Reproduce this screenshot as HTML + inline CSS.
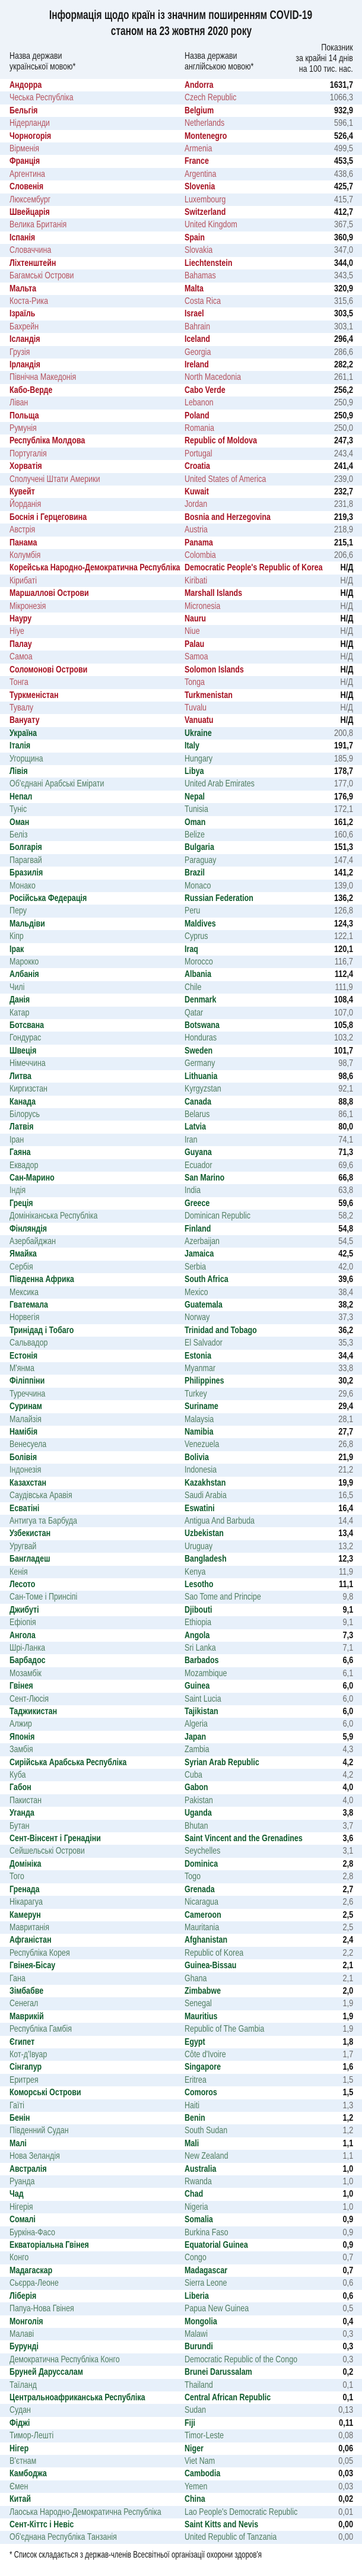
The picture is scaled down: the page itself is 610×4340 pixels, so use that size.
<!DOCTYPE html>
<html lang="uk"><head><meta charset="utf-8">
<style>
*{margin:0;padding:0;box-sizing:border-box}
body{width:610px;height:4340px;background:#fff;font-family:"Liberation Sans","DejaVu Sans",sans-serif;position:relative;overflow:hidden}
.hd{position:absolute;left:0;top:0;width:610px;height:133px;background:#eef3f9}
.ttl{position:absolute;left:0;width:610px;text-align:center;font-weight:bold;font-size:21px;color:#1a1a1a;white-space:nowrap}
.ttl span{display:inline-block;transform:scaleX(.74);transform-origin:center}
.hl{position:absolute;font-size:16px;line-height:18px;color:#1f1f1f;white-space:nowrap}
.hl span{display:inline-block;transform:scaleX(.78);transform-origin:left}
.hr span{transform-origin:right}
.t{position:absolute;left:0;top:133px;width:610px}
.t>div{position:relative;height:21.41px;line-height:21.41px;font-size:16px;white-space:nowrap}
.t>div:nth-child(even){background:#e7f0fa}
.t>div span{position:absolute;top:0;display:inline-block}
.u{left:16px;transform:scaleX(.78);transform-origin:left}
.e{left:311px;transform:scaleX(.78);transform-origin:left}
.n{right:15px;transform:scaleX(.8);transform-origin:right}
.t>div:nth-child(odd){font-weight:bold}
.t>div:nth-child(odd) .n{color:#111}
.t>div:nth-child(even) .n{color:#6a6a6a}
.R:nth-child(odd) .u,.R:nth-child(odd) .e{color:#a50f20}
.R:nth-child(even) .u,.R:nth-child(even) .e{color:#b5505c}
.G:nth-child(odd) .u,.G:nth-child(odd) .e{color:#0d5a2c}
.G:nth-child(even) .u,.G:nth-child(even) .e{color:#4f7d60}
.t>div.ua .u,.t>div.ua .e{color:#0d5a2c;font-weight:bold}
.ft{position:absolute;left:16px;top:4296px;font-size:16px;color:#111;white-space:nowrap}
.ft span{display:inline-block;transform:scaleX(.72);transform-origin:left}
</style></head><body>
<div class="hd"></div>
<div class="ttl" style="top:14px"><span>Інформація щодо країн із значним поширенням COVID-19</span></div>
<div class="ttl" style="top:41px"><span>станом на 23 жовтня 2020 року</span></div>
<div class="hl" style="left:16px;top:86px"><span>Назва держави<br>української мовою*</span></div>
<div class="hl" style="left:311px;top:86px"><span>Назва держави<br>англійською мовою*</span></div>
<div class="hl hr" style="right:15px;top:72px;text-align:right"><span>Показник<br>за крайні 14 днів<br>на 100 тис. нас.</span></div>
<div class="t">
<div class="R"><span class="u">Андорра</span><span class="e">Andorra</span><span class="n">1631,7</span></div>
<div class="R"><span class="u">Чеська Республіка</span><span class="e">Czech Republic</span><span class="n">1066,3</span></div>
<div class="R"><span class="u">Бельгія</span><span class="e">Belgium</span><span class="n">932,9</span></div>
<div class="R"><span class="u">Нідерланди</span><span class="e">Netherlands</span><span class="n">596,1</span></div>
<div class="R"><span class="u">Чорногорія</span><span class="e">Montenegro</span><span class="n">526,4</span></div>
<div class="R"><span class="u">Вірменія</span><span class="e">Armenia</span><span class="n">499,5</span></div>
<div class="R"><span class="u">Франція</span><span class="e">France</span><span class="n">453,5</span></div>
<div class="R"><span class="u">Аргентина</span><span class="e">Argentina</span><span class="n">438,6</span></div>
<div class="R"><span class="u">Словенія</span><span class="e">Slovenia</span><span class="n">425,7</span></div>
<div class="R"><span class="u">Люксембург</span><span class="e">Luxembourg</span><span class="n">415,7</span></div>
<div class="R"><span class="u">Швейцарія</span><span class="e">Switzerland</span><span class="n">412,7</span></div>
<div class="R"><span class="u">Велика Британія</span><span class="e">United Kingdom</span><span class="n">367,5</span></div>
<div class="R"><span class="u">Іспанія</span><span class="e">Spain</span><span class="n">360,9</span></div>
<div class="R"><span class="u">Словаччина</span><span class="e">Slovakia</span><span class="n">347,0</span></div>
<div class="R"><span class="u">Ліхтенштейн</span><span class="e">Liechtenstein</span><span class="n">344,0</span></div>
<div class="R"><span class="u">Багамські Острови</span><span class="e">Bahamas</span><span class="n">343,5</span></div>
<div class="R"><span class="u">Мальта</span><span class="e">Malta</span><span class="n">320,9</span></div>
<div class="R"><span class="u">Коста-Рика</span><span class="e">Costa Rica</span><span class="n">315,6</span></div>
<div class="R"><span class="u">Ізраїль</span><span class="e">Israel</span><span class="n">303,5</span></div>
<div class="R"><span class="u">Бахрейн</span><span class="e">Bahrain</span><span class="n">303,1</span></div>
<div class="R"><span class="u">Ісландія</span><span class="e">Iceland</span><span class="n">296,4</span></div>
<div class="R"><span class="u">Грузія</span><span class="e">Georgia</span><span class="n">286,6</span></div>
<div class="R"><span class="u">Ірландія</span><span class="e">Ireland</span><span class="n">282,2</span></div>
<div class="R"><span class="u">Північна Македонія</span><span class="e">North Macedonia</span><span class="n">261,1</span></div>
<div class="R"><span class="u">Кабо-Верде</span><span class="e">Cabo Verde</span><span class="n">256,2</span></div>
<div class="R"><span class="u">Ліван</span><span class="e">Lebanon</span><span class="n">250,9</span></div>
<div class="R"><span class="u">Польща</span><span class="e">Poland</span><span class="n">250,9</span></div>
<div class="R"><span class="u">Румунія</span><span class="e">Romania</span><span class="n">250,0</span></div>
<div class="R"><span class="u">Республіка Молдова</span><span class="e">Republic of Moldova</span><span class="n">247,3</span></div>
<div class="R"><span class="u">Португалія</span><span class="e">Portugal</span><span class="n">243,4</span></div>
<div class="R"><span class="u">Хорватія</span><span class="e">Croatia</span><span class="n">241,4</span></div>
<div class="R"><span class="u">Сполучені Штати Америки</span><span class="e">United States of America</span><span class="n">239,0</span></div>
<div class="R"><span class="u">Кувейт</span><span class="e">Kuwait</span><span class="n">232,7</span></div>
<div class="R"><span class="u">Йорданія</span><span class="e">Jordan</span><span class="n">231,8</span></div>
<div class="R"><span class="u">Боснія і Герцеговина</span><span class="e">Bosnia and Herzegovina</span><span class="n">219,3</span></div>
<div class="R"><span class="u">Австрія</span><span class="e">Austria</span><span class="n">218,9</span></div>
<div class="R"><span class="u">Панама</span><span class="e">Panama</span><span class="n">215,1</span></div>
<div class="R"><span class="u">Колумбія</span><span class="e">Colombia</span><span class="n">206,6</span></div>
<div class="R"><span class="u">Корейська Народно-Демократична Республіка</span><span class="e">Democratic People's Republic of Korea</span><span class="n">Н/Д</span></div>
<div class="R"><span class="u">Кірибаті</span><span class="e">Kiribati</span><span class="n">Н/Д</span></div>
<div class="R"><span class="u">Маршаллові Острови</span><span class="e">Marshall Islands</span><span class="n">Н/Д</span></div>
<div class="R"><span class="u">Мікронезія</span><span class="e">Micronesia</span><span class="n">Н/Д</span></div>
<div class="R"><span class="u">Науру</span><span class="e">Nauru</span><span class="n">Н/Д</span></div>
<div class="R"><span class="u">Ніуе</span><span class="e">Niue</span><span class="n">Н/Д</span></div>
<div class="R"><span class="u">Палау</span><span class="e">Palau</span><span class="n">Н/Д</span></div>
<div class="R"><span class="u">Самоа</span><span class="e">Samoa</span><span class="n">Н/Д</span></div>
<div class="R"><span class="u">Соломонові Острови</span><span class="e">Solomon Islands</span><span class="n">Н/Д</span></div>
<div class="R"><span class="u">Тонга</span><span class="e">Tonga</span><span class="n">Н/Д</span></div>
<div class="R"><span class="u">Туркменістан</span><span class="e">Turkmenistan</span><span class="n">Н/Д</span></div>
<div class="R"><span class="u">Тувалу</span><span class="e">Tuvalu</span><span class="n">Н/Д</span></div>
<div class="R"><span class="u">Вануату</span><span class="e">Vanuatu</span><span class="n">Н/Д</span></div>
<div class="G ua"><span class="u">Україна</span><span class="e">Ukraine</span><span class="n">200,8</span></div>
<div class="G"><span class="u">Італія</span><span class="e">Italy</span><span class="n">191,7</span></div>
<div class="G"><span class="u">Угорщина</span><span class="e">Hungary</span><span class="n">185,9</span></div>
<div class="G"><span class="u">Лівія</span><span class="e">Libya</span><span class="n">178,7</span></div>
<div class="G"><span class="u">Об'єднані Арабські Емірати</span><span class="e">United Arab Emirates</span><span class="n">177,0</span></div>
<div class="G"><span class="u">Непал</span><span class="e">Nepal</span><span class="n">176,9</span></div>
<div class="G"><span class="u">Туніс</span><span class="e">Tunisia</span><span class="n">172,1</span></div>
<div class="G"><span class="u">Оман</span><span class="e">Oman</span><span class="n">161,2</span></div>
<div class="G"><span class="u">Беліз</span><span class="e">Belize</span><span class="n">160,6</span></div>
<div class="G"><span class="u">Болгарія</span><span class="e">Bulgaria</span><span class="n">151,3</span></div>
<div class="G"><span class="u">Парагвай</span><span class="e">Paraguay</span><span class="n">147,4</span></div>
<div class="G"><span class="u">Бразилія</span><span class="e">Brazil</span><span class="n">141,2</span></div>
<div class="G"><span class="u">Монако</span><span class="e">Monaco</span><span class="n">139,0</span></div>
<div class="G"><span class="u">Російська Федерація</span><span class="e">Russian Federation</span><span class="n">136,2</span></div>
<div class="G"><span class="u">Перу</span><span class="e">Peru</span><span class="n">126,8</span></div>
<div class="G"><span class="u">Мальдіви</span><span class="e">Maldives</span><span class="n">124,3</span></div>
<div class="G"><span class="u">Кіпр</span><span class="e">Cyprus</span><span class="n">122,1</span></div>
<div class="G"><span class="u">Ірак</span><span class="e">Iraq</span><span class="n">120,1</span></div>
<div class="G"><span class="u">Марокко</span><span class="e">Morocco</span><span class="n">116,7</span></div>
<div class="G"><span class="u">Албанія</span><span class="e">Albania</span><span class="n">112,4</span></div>
<div class="G"><span class="u">Чилі</span><span class="e">Chile</span><span class="n">111,9</span></div>
<div class="G"><span class="u">Данія</span><span class="e">Denmark</span><span class="n">108,4</span></div>
<div class="G"><span class="u">Катар</span><span class="e">Qatar</span><span class="n">107,0</span></div>
<div class="G"><span class="u">Ботсвана</span><span class="e">Botswana</span><span class="n">105,8</span></div>
<div class="G"><span class="u">Гондурас</span><span class="e">Honduras</span><span class="n">103,2</span></div>
<div class="G"><span class="u">Швеція</span><span class="e">Sweden</span><span class="n">101,7</span></div>
<div class="G"><span class="u">Німеччина</span><span class="e">Germany</span><span class="n">98,7</span></div>
<div class="G"><span class="u">Литва</span><span class="e">Lithuania</span><span class="n">98,6</span></div>
<div class="G"><span class="u">Киргизстан</span><span class="e">Kyrgyzstan</span><span class="n">92,1</span></div>
<div class="G"><span class="u">Канада</span><span class="e">Canada</span><span class="n">88,8</span></div>
<div class="G"><span class="u">Білорусь</span><span class="e">Belarus</span><span class="n">86,1</span></div>
<div class="G"><span class="u">Латвія</span><span class="e">Latvia</span><span class="n">80,0</span></div>
<div class="G"><span class="u">Іран</span><span class="e">Iran</span><span class="n">74,1</span></div>
<div class="G"><span class="u">Гаяна</span><span class="e">Guyana</span><span class="n">71,3</span></div>
<div class="G"><span class="u">Еквадор</span><span class="e">Ecuador</span><span class="n">69,6</span></div>
<div class="G"><span class="u">Сан-Марино</span><span class="e">San Marino</span><span class="n">66,8</span></div>
<div class="G"><span class="u">Індія</span><span class="e">India</span><span class="n">63,8</span></div>
<div class="G"><span class="u">Греція</span><span class="e">Greece</span><span class="n">59,6</span></div>
<div class="G"><span class="u">Домініканська Республіка</span><span class="e">Dominican Republic</span><span class="n">58,2</span></div>
<div class="G"><span class="u">Фінляндія</span><span class="e">Finland</span><span class="n">54,8</span></div>
<div class="G"><span class="u">Азербайджан</span><span class="e">Azerbaijan</span><span class="n">54,5</span></div>
<div class="G"><span class="u">Ямайка</span><span class="e">Jamaica</span><span class="n">42,5</span></div>
<div class="G"><span class="u">Сербія</span><span class="e">Serbia</span><span class="n">42,0</span></div>
<div class="G"><span class="u">Південна Африка</span><span class="e">South Africa</span><span class="n">39,6</span></div>
<div class="G"><span class="u">Мексика</span><span class="e">Mexico</span><span class="n">38,4</span></div>
<div class="G"><span class="u">Гватемала</span><span class="e">Guatemala</span><span class="n">38,2</span></div>
<div class="G"><span class="u">Норвегія</span><span class="e">Norway</span><span class="n">37,3</span></div>
<div class="G"><span class="u">Тринідад і Тобаго</span><span class="e">Trinidad and Tobago</span><span class="n">36,2</span></div>
<div class="G"><span class="u">Сальвадор</span><span class="e">El Salvador</span><span class="n">35,3</span></div>
<div class="G"><span class="u">Естонія</span><span class="e">Estonia</span><span class="n">34,4</span></div>
<div class="G"><span class="u">М'янма</span><span class="e">Myanmar</span><span class="n">33,8</span></div>
<div class="G"><span class="u">Філіппіни</span><span class="e">Philippines</span><span class="n">30,2</span></div>
<div class="G"><span class="u">Туреччина</span><span class="e">Turkey</span><span class="n">29,6</span></div>
<div class="G"><span class="u">Суринам</span><span class="e">Suriname</span><span class="n">29,4</span></div>
<div class="G"><span class="u">Малайзія</span><span class="e">Malaysia</span><span class="n">28,1</span></div>
<div class="G"><span class="u">Намібія</span><span class="e">Namibia</span><span class="n">27,7</span></div>
<div class="G"><span class="u">Венесуела</span><span class="e">Venezuela</span><span class="n">26,8</span></div>
<div class="G"><span class="u">Болівія</span><span class="e">Bolivia</span><span class="n">21,9</span></div>
<div class="G"><span class="u">Індонезія</span><span class="e">Indonesia</span><span class="n">21,2</span></div>
<div class="G"><span class="u">Казахстан</span><span class="e">Kazakhstan</span><span class="n">19,9</span></div>
<div class="G"><span class="u">Саудівська Аравія</span><span class="e">Saudi Arabia</span><span class="n">16,5</span></div>
<div class="G"><span class="u">Есватіні</span><span class="e">Eswatini</span><span class="n">16,4</span></div>
<div class="G"><span class="u">Антигуа та Барбуда</span><span class="e">Antigua And Barbuda</span><span class="n">14,4</span></div>
<div class="G"><span class="u">Узбекистан</span><span class="e">Uzbekistan</span><span class="n">13,4</span></div>
<div class="G"><span class="u">Уругвай</span><span class="e">Uruguay</span><span class="n">13,2</span></div>
<div class="G"><span class="u">Бангладеш</span><span class="e">Bangladesh</span><span class="n">12,3</span></div>
<div class="G"><span class="u">Кенія</span><span class="e">Kenya</span><span class="n">11,9</span></div>
<div class="G"><span class="u">Лесото</span><span class="e">Lesotho</span><span class="n">11,1</span></div>
<div class="G"><span class="u">Сан-Томе і Принсіпі</span><span class="e">Sao Tome and Principe</span><span class="n">9,8</span></div>
<div class="G"><span class="u">Джибуті</span><span class="e">Djibouti</span><span class="n">9,1</span></div>
<div class="G"><span class="u">Ефіопія</span><span class="e">Ethiopia</span><span class="n">9,1</span></div>
<div class="G"><span class="u">Ангола</span><span class="e">Angola</span><span class="n">7,3</span></div>
<div class="G"><span class="u">Шрі-Ланка</span><span class="e">Sri Lanka</span><span class="n">7,1</span></div>
<div class="G"><span class="u">Барбадос</span><span class="e">Barbados</span><span class="n">6,6</span></div>
<div class="G"><span class="u">Мозамбік</span><span class="e">Mozambique</span><span class="n">6,1</span></div>
<div class="G"><span class="u">Гвінея</span><span class="e">Guinea</span><span class="n">6,0</span></div>
<div class="G"><span class="u">Сент-Люсія</span><span class="e">Saint Lucia</span><span class="n">6,0</span></div>
<div class="G"><span class="u">Таджикистан</span><span class="e">Tajikistan</span><span class="n">6,0</span></div>
<div class="G"><span class="u">Алжир</span><span class="e">Algeria</span><span class="n">6,0</span></div>
<div class="G"><span class="u">Японія</span><span class="e">Japan</span><span class="n">5,9</span></div>
<div class="G"><span class="u">Замбія</span><span class="e">Zambia</span><span class="n">4,3</span></div>
<div class="G"><span class="u">Сирійська Арабська Республіка</span><span class="e">Syrian Arab Republic</span><span class="n">4,2</span></div>
<div class="G"><span class="u">Куба</span><span class="e">Cuba</span><span class="n">4,2</span></div>
<div class="G"><span class="u">Габон</span><span class="e">Gabon</span><span class="n">4,0</span></div>
<div class="G"><span class="u">Пакистан</span><span class="e">Pakistan</span><span class="n">4,0</span></div>
<div class="G"><span class="u">Уганда</span><span class="e">Uganda</span><span class="n">3,8</span></div>
<div class="G"><span class="u">Бутан</span><span class="e">Bhutan</span><span class="n">3,7</span></div>
<div class="G"><span class="u">Сент-Вінсент і Гренадіни</span><span class="e">Saint Vincent and the Grenadines</span><span class="n">3,6</span></div>
<div class="G"><span class="u">Сейшельські Острови</span><span class="e">Seychelles</span><span class="n">3,1</span></div>
<div class="G"><span class="u">Домініка</span><span class="e">Dominica</span><span class="n">2,8</span></div>
<div class="G"><span class="u">Того</span><span class="e">Togo</span><span class="n">2,8</span></div>
<div class="G"><span class="u">Гренада</span><span class="e">Grenada</span><span class="n">2,7</span></div>
<div class="G"><span class="u">Нікарагуа</span><span class="e">Nicaragua</span><span class="n">2,6</span></div>
<div class="G"><span class="u">Камерун</span><span class="e">Cameroon</span><span class="n">2,5</span></div>
<div class="G"><span class="u">Мавританія</span><span class="e">Mauritania</span><span class="n">2,5</span></div>
<div class="G"><span class="u">Афганістан</span><span class="e">Afghanistan</span><span class="n">2,4</span></div>
<div class="G"><span class="u">Республіка Корея</span><span class="e">Republic of Korea</span><span class="n">2,2</span></div>
<div class="G"><span class="u">Гвінея-Бісау</span><span class="e">Guinea-Bissau</span><span class="n">2,1</span></div>
<div class="G"><span class="u">Гана</span><span class="e">Ghana</span><span class="n">2,1</span></div>
<div class="G"><span class="u">Зімбабве</span><span class="e">Zimbabwe</span><span class="n">2,0</span></div>
<div class="G"><span class="u">Сенегал</span><span class="e">Senegal</span><span class="n">1,9</span></div>
<div class="G"><span class="u">Маврикій</span><span class="e">Mauritius</span><span class="n">1,9</span></div>
<div class="G"><span class="u">Республіка Гамбія</span><span class="e">Republic of The Gambia</span><span class="n">1,9</span></div>
<div class="G"><span class="u">Єгипет</span><span class="e">Egypt</span><span class="n">1,8</span></div>
<div class="G"><span class="u">Кот-д'Івуар</span><span class="e">Côte d'Ivoire</span><span class="n">1,7</span></div>
<div class="G"><span class="u">Сінгапур</span><span class="e">Singapore</span><span class="n">1,6</span></div>
<div class="G"><span class="u">Еритрея</span><span class="e">Eritrea</span><span class="n">1,5</span></div>
<div class="G"><span class="u">Коморські Острови</span><span class="e">Comoros</span><span class="n">1,5</span></div>
<div class="G"><span class="u">Гаїті</span><span class="e">Haiti</span><span class="n">1,3</span></div>
<div class="G"><span class="u">Бенін</span><span class="e">Benin</span><span class="n">1,2</span></div>
<div class="G"><span class="u">Південний Судан</span><span class="e">South Sudan</span><span class="n">1,2</span></div>
<div class="G"><span class="u">Малі</span><span class="e">Mali</span><span class="n">1,1</span></div>
<div class="G"><span class="u">Нова Зеландія</span><span class="e">New Zealand</span><span class="n">1,1</span></div>
<div class="G"><span class="u">Австралія</span><span class="e">Australia</span><span class="n">1,0</span></div>
<div class="G"><span class="u">Руанда</span><span class="e">Rwanda</span><span class="n">1,0</span></div>
<div class="G"><span class="u">Чад</span><span class="e">Chad</span><span class="n">1,0</span></div>
<div class="G"><span class="u">Нігерія</span><span class="e">Nigeria</span><span class="n">1,0</span></div>
<div class="G"><span class="u">Сомалі</span><span class="e">Somalia</span><span class="n">0,9</span></div>
<div class="G"><span class="u">Буркіна-Фасо</span><span class="e">Burkina Faso</span><span class="n">0,9</span></div>
<div class="G"><span class="u">Екваторіальна Гвінея</span><span class="e">Equatorial Guinea</span><span class="n">0,9</span></div>
<div class="G"><span class="u">Конго</span><span class="e">Congo</span><span class="n">0,7</span></div>
<div class="G"><span class="u">Мадагаскар</span><span class="e">Madagascar</span><span class="n">0,7</span></div>
<div class="G"><span class="u">Сьєрра-Леоне</span><span class="e">Sierra Leone</span><span class="n">0,6</span></div>
<div class="G"><span class="u">Ліберія</span><span class="e">Liberia</span><span class="n">0,6</span></div>
<div class="G"><span class="u">Папуа-Нова Гвінея</span><span class="e">Papua New Guinea</span><span class="n">0,5</span></div>
<div class="G"><span class="u">Монголія</span><span class="e">Mongolia</span><span class="n">0,4</span></div>
<div class="G"><span class="u">Малаві</span><span class="e">Malawi</span><span class="n">0,3</span></div>
<div class="G"><span class="u">Бурунді</span><span class="e">Burundi</span><span class="n">0,3</span></div>
<div class="G"><span class="u">Демократична Республіка Конго</span><span class="e">Democratic Republic of the Congo</span><span class="n">0,3</span></div>
<div class="G"><span class="u">Бруней Даруссалам</span><span class="e">Brunei Darussalam</span><span class="n">0,2</span></div>
<div class="G"><span class="u">Таїланд</span><span class="e">Thailand</span><span class="n">0,1</span></div>
<div class="G"><span class="u">Центральноафриканська Республіка</span><span class="e">Central African Republic</span><span class="n">0,1</span></div>
<div class="G"><span class="u">Судан</span><span class="e">Sudan</span><span class="n">0,13</span></div>
<div class="G"><span class="u">Фіджі</span><span class="e">Fiji</span><span class="n">0,11</span></div>
<div class="G"><span class="u">Тимор-Лешті</span><span class="e">Timor-Leste</span><span class="n">0,08</span></div>
<div class="G"><span class="u">Нігер</span><span class="e">Niger</span><span class="n">0,06</span></div>
<div class="G"><span class="u">В'єтнам</span><span class="e">Viet Nam</span><span class="n">0,05</span></div>
<div class="G"><span class="u">Камбоджа</span><span class="e">Cambodia</span><span class="n">0,03</span></div>
<div class="G"><span class="u">Ємен</span><span class="e">Yemen</span><span class="n">0,03</span></div>
<div class="G"><span class="u">Китай</span><span class="e">China</span><span class="n">0,02</span></div>
<div class="G"><span class="u">Лаоська Народно-Демократична Республіка</span><span class="e">Lao People's Democratic Republic</span><span class="n">0,01</span></div>
<div class="G"><span class="u">Сент-Кіттс і Невіс</span><span class="e">Saint Kitts and Nevis</span><span class="n">0,00</span></div>
<div class="G"><span class="u">Об'єднана Республіка Танзанія</span><span class="e">United Republic of Tanzania</span><span class="n">0,00</span></div>
</div>
<div class="ft"><span>* Список складається з держав-членів Всесвітньої організації охорони здоров'я</span></div>
</body></html>
